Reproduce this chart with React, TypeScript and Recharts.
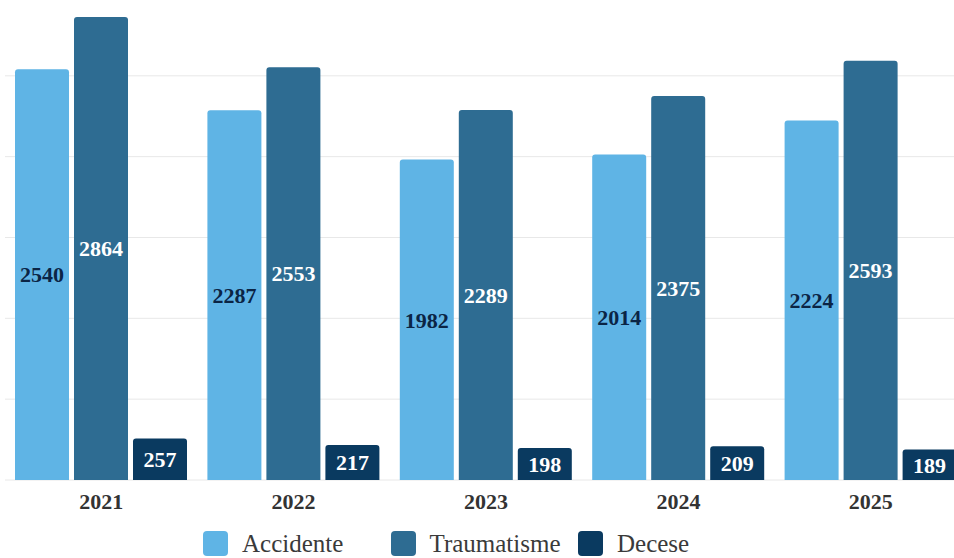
import { BarChart, Bar, XAxis, YAxis, CartesianGrid, Legend, LabelList } from "recharts";

const YEARS = ["2021", "2022", "2023", "2024", "2025"];
const ACCIDENTE = [2540, 2287, 1982, 2014, 2224];
const TRAUMATISME = [2864, 2553, 2289, 2375, 2593];
const DECESE = [257, 217, 198, 209, 189];
const Y_TICKS = [0, 500, 1000, 1500, 2000, 2500, 3000];

const SERIES = [
  { key: "accidente", name: "Accidente", color: "#5fb4e5", label: "#0b2545" },
  { key: "traumatisme", name: "Traumatisme", color: "#2e6c92", label: "#ffffff" },
  { key: "decese", name: "Decese", color: "#0a3a60", label: "#ffffff" },
];

const FONT = "'Liberation Serif', 'Times New Roman', serif";

const data = YEARS.map((year, i) => ({
  year,
  accidente: ACCIDENTE[i],
  traumatisme: TRAUMATISME[i],
  decese: DECESE[i],
}));

function LegendBox() {
  return (
    <div style={{ display: "flex", height: 34, paddingLeft: 198, fontFamily: FONT }}>
      {SERIES.map((s) => (
        <div key={s.key} style={{ width: 187.5, display: "flex", alignItems: "center", height: 25, marginTop: 7 }}>
          <span style={{ width: 25, height: 25, borderRadius: 4, background: s.color, marginRight: 14 }} />
          <span style={{ fontSize: 25, color: "#3a3a3a", lineHeight: "25px" }}>{s.name}</span>
        </div>
      ))}
    </div>
  );
}

export default function App() {
  // the top of the plot (3000) sits just above the picture, as in the cropped original
  return (
    <div style={{ position: "absolute", left: 0, top: 0, width: 954, height: 558, overflow: "hidden", background: "#fff" }}>
      <BarChart
        width={972}
        height={558}
        data={data}
        margin={{ top: -5, right: 5, bottom: 0, left: 5 }}
        barSize={54}
        barGap={5}
      >
        <CartesianGrid vertical={false} stroke="#e8e8e8" />
        <YAxis hide domain={[0, 3000]} ticks={Y_TICKS} />
        <XAxis
          dataKey="year"
          height={44}
          axisLine={false}
          tickLine={false}
          tickMargin={7}
          tick={{ fontFamily: FONT, fontWeight: "bold", fontSize: 22, fill: "#333" }}
        />
        <Legend verticalAlign="bottom" align="left" content={() => <LegendBox />} />
        {SERIES.map((s) => (
          <Bar key={s.key} dataKey={s.key} name={s.name} fill={s.color} radius={[3, 3, 0, 0]} isAnimationActive={false}>
            <LabelList
              dataKey={s.key}
              position="center"
              fill={s.label}
              fontFamily={FONT}
              fontWeight="bold"
              fontSize={22}
            />
          </Bar>
        ))}
      </BarChart>
    </div>
  );
}
